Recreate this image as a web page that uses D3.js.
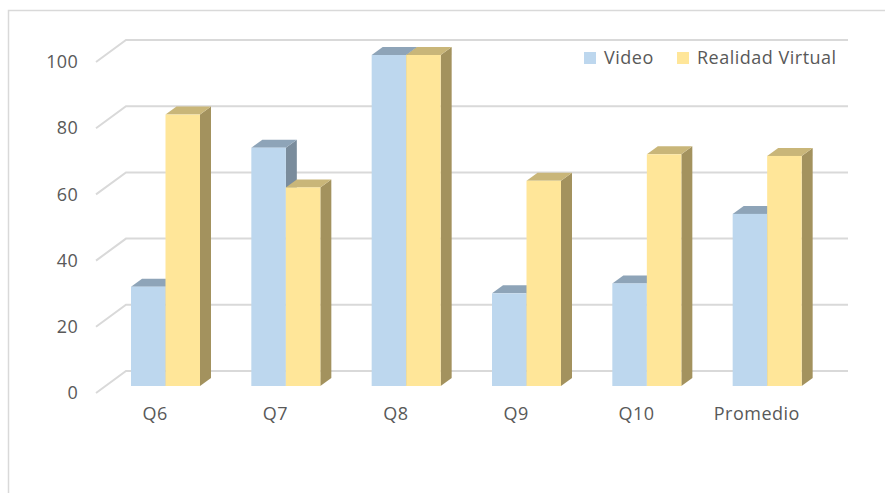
<!DOCTYPE html>
<html>
<head>
<meta charset="utf-8">
<script src="https://cdn.jsdelivr.net/npm/d3@7"></script>
<style>
  html, body { margin: 0; padding: 0; background: #fff; }
  svg { display: block; font-family: "Open Sans", Lato, sans-serif; }
</style>
</head>
<body>
<svg id="chart" width="885" height="493"></svg>
<script>
// Survey results per question, two presentation formats
const categories = ["Q6", "Q7", "Q8", "Q9", "Q10", "Promedio"];
const seriesNames = ["Video", "Realidad Virtual"];
const videoValues = [30, 72, 100, 28, 31, 52];
const vrValues = [82, 60, 100, 62, 70, 69.5];
const yTicks = [0, 20, 40, 60, 80, 100];

const palette = [
  { front: "#BDD7EE", top: "#8EA4B8", side: "#7A8C9C" },
  { front: "#FFE699", top: "#C9B679", side: "#A3925E" }
];

const fontFamily = "'Open Sans', Lato, sans-serif";
const svg = d3.select("#chart");

// Outer chart frame
svg.append("rect")
  .attr("x", 8.5).attr("y", 10.5)
  .attr("width", 900).attr("height", 500)
  .attr("fill", "none").attr("stroke", "#D9D9D9").attr("stroke-width", 1.5);

// 3D projection: depth offset of the back wall and of each bar
const wallDx = 30, wallDy = 22;
const barDx = 11, barDy = 8;

const x = d3.scaleBand().domain(categories).range([96, 818]);
const yWall = d3.scaleLinear().domain([0, 100]).range([371, 40]);
const yBar = d3.scaleLinear().domain([0, 100]).range([386, 55]);
const barW = 34.5, barOffset = 35;

// Gridlines: slanted floor edge then along the back wall
const grid = svg.append("g");
yTicks.forEach(t => {
  const yb = yWall(t);
  grid.append("path")
    .attr("d", `M96,${yb + wallDy}L${96 + wallDx},${yb}L848,${yb}`)
    .attr("fill", "none").attr("stroke", "#D9D9D9").attr("stroke-width", 2);
});

// Value axis labels on the front plane
const yFrontAxis = d3.scaleLinear().domain([0, 100]).range([371 + wallDy, 40 + wallDy]);
const yAxis = svg.append("g")
  .attr("transform", "translate(78,0)")
  .call(d3.axisLeft(yFrontAxis).tickValues(yTicks).tickSize(0).tickPadding(0));
yAxis.select(".domain").remove();
yAxis.selectAll("text")
  .attr("fill", "#595959").style("font-size", "18px").style("font-family", fontFamily)
  .style("letter-spacing", "0.3px");

// Bars
const bars = svg.append("g");
const seriesData = [videoValues, vrValues];
categories.forEach((c, i) => {
  seriesData.forEach((vals, s) => {
    const v = vals[i];
    const x0 = x(c) + barOffset + s * barW;
    const x1 = x0 + barW;
    const yb = yBar(0), yt = yBar(v);
    const col = palette[s];
    // side face
    bars.append("path")
      .attr("d", `M${x1},${yb}L${x1 + barDx},${yb - barDy}L${x1 + barDx},${yt - barDy}L${x1},${yt}Z`)
      .attr("fill", col.side);
    // top face
    bars.append("path")
      .attr("d", `M${x0},${yt}L${x0 + barDx},${yt - barDy}L${x1 + barDx},${yt - barDy}L${x1},${yt}Z`)
      .attr("fill", col.top);
    // front face
    bars.append("rect")
      .attr("x", x0).attr("y", yt)
      .attr("width", barW).attr("height", yb - yt)
      .attr("fill", col.front);
  });
});

// Category labels
const xAxis = svg.append("g")
  .attr("transform", "translate(-1,407)")
  .call(d3.axisBottom(x).tickSize(0).tickPadding(0));
xAxis.select(".domain").remove();
xAxis.selectAll("text")
  .attr("fill", "#595959").style("font-size", "18px").style("font-family", fontFamily)
  .style("letter-spacing", "0.5px");

// Legend
const legend = svg.append("g").attr("transform", "translate(584,58)");
const legendX = [0, 93];
seriesNames.forEach((name, s) => {
  const g = legend.append("g").attr("transform", `translate(${legendX[s]},0)`);
  g.append("rect").attr("x", 0).attr("y", -6).attr("width", 12).attr("height", 12)
    .attr("fill", palette[s].front);
  g.append("text").attr("x", 20).attr("y", 0).attr("dy", "0.35em")
    .attr("fill", "#595959").style("font-size", "18px").style("font-family", fontFamily)
    .style("letter-spacing", "0.5px").text(name);
});
</script>
</body>
</html>
